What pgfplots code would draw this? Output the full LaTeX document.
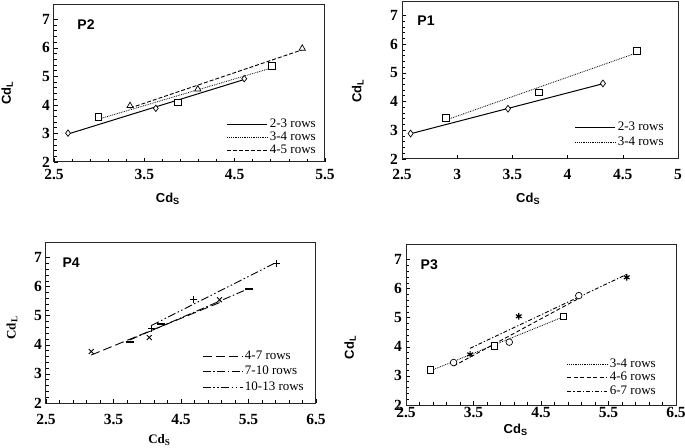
\documentclass[border=0pt]{standalone}
\usepackage{fontspec}
\setmainfont{Liberation Serif}
\setsansfont{Liberation Sans}
\usepackage{pgfplots}
\pgfplotsset{compat=1.18}
\tikzset{plab/.style={font=\sffamily\bfseries\fontsize{14}{14}\selectfont, anchor=center}}
\pgfplotsset{
 panel/.style={
  scale only axis, anchor=south west,
  ymin=2, ymax=7.5, ytick={2,3,4,5,6,7},
  axis line style={line width=1pt, black!85},
  tick style={black, line width=0.6pt},
  major tick length=4pt, minor tick length=3pt, tick align=inside,
  xtick pos=bottom, ytick pos=left,
  minor y tick num=4,
  ticklabel style={font=\bfseries\fontsize{15.5}{15.5}\selectfont},
  /pgf/number format/assume math mode=true,
  yticklabel style={xshift=-0.5pt},
  legend style={draw=none, fill=none, font=\fontsize{13}{13}\selectfont,
    inner sep=0pt, nodes={inner xsep=2pt, inner ysep=0pt, text height=9pt, text depth=2.5pt},
    cells={anchor=west}},
  legend cell align=left,
 },
 mk/.style={only marks, forget plot, mark options={solid, fill=white, line width=0.7pt}},
 tl/.style={no marks, black},
}
\begin{document}
\begin{tikzpicture}
\path[use as bounding box] (0pt,0pt) rectangle (685pt,447pt);
% ---------- P2 ----------
\begin{axis}[panel, at={(54pt,285pt)}, width=271pt, height=157pt,
  legend image code/.code={\draw[#1] (0pt,0pt) -- (40pt,0pt);},
  xticklabel style={yshift=-4pt},
  xmin=2.5, xmax=5.5, xtick={2.5,3.5,4.5,5.5}, minor x tick num=4,
  xlabel={\sffamily\bfseries\fontsize{13}{13}\selectfont Cd\textsubscript{S}},
  ylabel={\sffamily\bfseries\fontsize{13}{13}\selectfont Cd\textsubscript{L}},
  xlabel style={at={(rel axis cs:0.42,-0.236)}, anchor=center},
  ylabel style={at={(rel axis cs:-0.173,0.44)}, anchor=center},
  legend style={at={(rel axis cs:0.974,0.276)}, anchor=north east, row sep=1.3pt}]
\addplot[mk, mark=diamond*, mark size=3.2pt] coordinates {(2.655,3.01) (3.627,3.88) (4.606,4.92)};
\addplot[mk, mark=square*, mark size=3.4pt] coordinates {(2.991,3.59) (3.871,4.09) (4.916,5.36)};
\addplot[mk, mark=triangle*, mark size=3.6pt] coordinates {(3.342,3.97) (4.092,4.55) (5.248,5.98)};
\addplot[tl, line width=1pt] coordinates {(2.655,2.98) (4.606,4.89)};
\addlegendentry{2-3 rows}
\addplot[tl, line width=0.8pt, densely dotted] coordinates {(2.991,3.50) (4.916,5.30)};
\addlegendentry{3-4 rows}
\addplot[tl, line width=0.9pt, dash pattern=on 4pt off 2pt] coordinates {(3.342,3.89) (5.248,5.93)};
\addlegendentry{4-5 rows}
\node[plab] at (rel axis cs:0.118,0.873) {P2};
\end{axis}
% ---------- P1 ----------
\begin{axis}[panel, at={(402pt,288pt)}, width=276pt, height=158pt,
  legend image code/.code={\draw[#1] (0pt,0pt) -- (40pt,0pt);},
  xticklabel style={yshift=-7pt},
  xmin=2.5, xmax=5, xtick={2.5,3,3.5,4,4.5,5},
  xlabel={\sffamily\bfseries\fontsize{13}{13}\selectfont Cd\textsubscript{S}},
  ylabel={\sffamily\bfseries\fontsize{13}{13}\selectfont Cd\textsubscript{L}},
  xlabel style={at={(rel axis cs:0.457,-0.253)}, anchor=center},
  ylabel style={at={(rel axis cs:-0.16,0.43)}, anchor=center},
  legend style={at={(rel axis cs:0.956,0.237)}, anchor=north east, row sep=3.5pt}]
\addplot[mk, mark=diamond*, mark size=3.4pt] coordinates {(2.578,2.886) (3.46,3.75) (4.32,4.63)};
\addplot[mk, mark=square*, mark size=3.4pt] coordinates {(2.9,3.42) (3.74,4.32) (4.63,5.76)};
\addplot[tl, line width=1pt] coordinates {(2.578,2.88) (4.32,4.62)};
\addlegendentry{2-3 rows}
\addplot[tl, line width=0.8pt, densely dotted] coordinates {(2.9,3.36) (4.63,5.70)};
\addlegendentry{3-4 rows}
\node[plab] at (rel axis cs:0.087,0.875) {P1};
\end{axis}
% ---------- P4 ----------
\begin{axis}[panel, at={(46pt,44pt)}, width=270pt, height=160pt,
  legend image code/.code={\draw[#1] (0pt,0pt) -- (40pt,0pt);},
  xticklabel style={yshift=-7.5pt},
  xmin=2.5, xmax=6.5, xtick={2.5,3.5,4.5,5.5,6.5}, minor x tick num=4,
  xlabel={\bfseries\fontsize{13}{13}\selectfont Cd\textsubscript{S}},
  ylabel={\bfseries\fontsize{13}{13}\selectfont Cd\textsubscript{L}},
  xlabel style={at={(rel axis cs:0.42,-0.23)}, anchor=center},
  ylabel style={at={(rel axis cs:-0.126,0.47)}, anchor=center},
  legend style={at={(rel axis cs:0.963,0.331)}, anchor=north east, row sep=4.2pt}]
\addplot[mk, mark=x, mark size=3.5pt, mark options={line width=0.9pt}] coordinates {(3.17,3.77) (4.03,4.25) (5.07,5.55)};
\addplot[mk, mark=-, mark size=4pt, mark options={line width=2.2pt}] coordinates {(3.745,4.11) (4.21,4.72) (5.51,5.92)};
\addplot[mk, mark=+, mark size=3.5pt, mark options={line width=0.9pt}] coordinates {(4.066,4.57) (4.69,5.55) (5.91,6.78)};
\addplot[tl, line width=0.9pt, dash pattern=on 9pt off 4pt] coordinates {(3.17,3.65) (5.07,5.45)};
\addlegendentry{4-7 rows}
\addplot[tl, line width=0.9pt, dash pattern=on 8pt off 2.5pt on 1.5pt off 2.5pt] coordinates {(3.745,4.17) (5.51,5.94)};
\addlegendentry{7-10 rows}
\addplot[tl, line width=0.9pt, dash pattern=on 8pt off 2.5pt on 1.5pt off 2.5pt on 1.5pt off 2.5pt] coordinates {(4.066,4.67) (5.91,6.83)};
\addlegendentry{10-13 rows}
\node[plab] at (rel axis cs:0.093,0.879) {P4};
\end{axis}
% ---------- P3 ----------
\begin{axis}[panel, at={(406pt,42pt)}, width=270pt, height=160pt,
  legend image code/.code={\draw[#1] (0pt,0pt) -- (40pt,0pt);},
  xticklabel style={yshift=1.5pt},
  xmin=2.5, xmax=6.5, xtick={2.5,3.5,4.5,5.5,6.5}, minor x tick num=4,
  xlabel={\sffamily\bfseries\fontsize{13}{13}\selectfont Cd\textsubscript{S}},
  ylabel={\sffamily\bfseries\fontsize{13}{13}\selectfont Cd\textsubscript{L}},
  xlabel style={at={(rel axis cs:0.406,-0.156)}, anchor=center},
  ylabel style={at={(rel axis cs:-0.207,0.36)}, anchor=center},
  legend style={at={(rel axis cs:0.933,0.294)}, anchor=north east, row sep=2.2pt}]
\addplot[mk, mark=square*, mark size=3.4pt] coordinates {(2.86,3.195) (3.81,4.03) (4.83,5.05)};
\addplot[mk, mark=*, mark size=3.3pt] coordinates {(3.205,3.46) (4.03,4.16) (5.06,5.76)};
\addplot[mk, mark=asterisk, mark size=3.3pt, mark options={line width=1.2pt}] coordinates {(3.45,3.74) (4.17,5.05) (5.77,6.39)};
\addplot[tl, line width=0.8pt, densely dotted] coordinates {(2.86,3.175) (4.83,5.03)};
\addlegendentry{3-4 rows}
\addplot[tl, line width=0.9pt, dash pattern=on 4pt off 2.5pt] coordinates {(3.205,3.34) (5.06,5.665)};
\addlegendentry{4-6 rows}
\addplot[tl, line width=0.9pt, dash pattern=on 4pt off 2pt on 1.2pt off 2pt] coordinates {(3.45,3.95) (5.77,6.49)};
\addlegendentry{6-7 rows}
\node[plab] at (rel axis cs:0.086,0.879) {P3};
\end{axis}
\end{tikzpicture}
\end{document}
